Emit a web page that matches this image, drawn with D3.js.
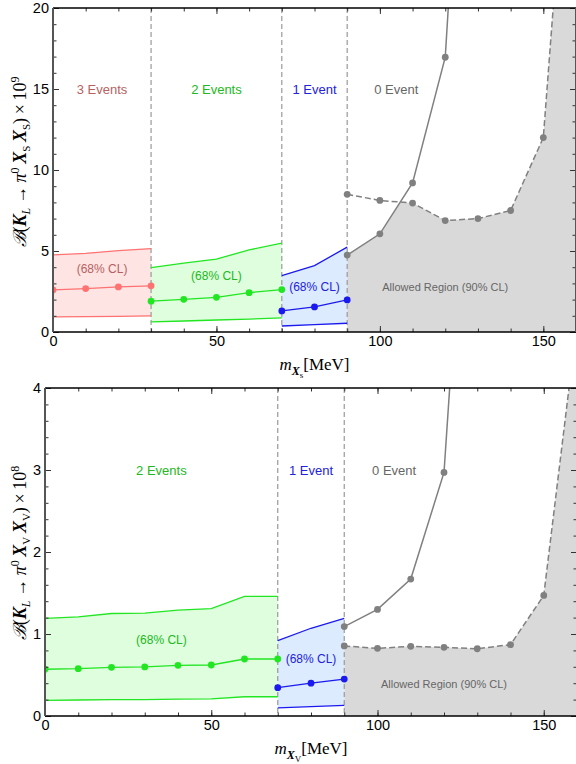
<html>
<head>
<meta charset="utf-8">
<script src="https://d3js.org/d3.v7.min.js"></script>
<style>
  body { margin: 0; background: #fff; }
  svg text { font-family: "Liberation Sans", Arial, sans-serif; }
</style>
</head>
<body>
<svg id="fig" width="576" height="764"></svg>
<script>
// ---- top panel: K_L -> pi0 Xs Xs  (x10^9) ----
var massS3 = [0, 10, 20, 30];
var s3Low  = [0.93, 0.95, 0.97, 0.99];
var s3Mid  = [2.6, 2.68, 2.78, 2.85];
var s3Up   = [4.76, 4.85, 5.02, 5.15];

var massS2 = [30, 40, 50, 60, 70];
var s2Low  = [0.63, 0.68, 0.74, 0.8, 0.87];
var s2Mid  = [1.9, 2.02, 2.14, 2.43, 2.62];
var s2Up   = [3.98, 4.25, 4.5, 5.07, 5.48];

var massS1 = [70, 80, 90];
var s1Low  = [0.37, 0.45, 0.54];
var s1Mid  = [1.3, 1.55, 1.98];
var s1Up   = [3.48, 4.1, 5.24];

var massS0  = [90, 100, 110, 120, 130];
var s0Solid = [4.75, 6.06, 9.2, 16.96, 50];
var massSAllow = [90, 100, 110, 120, 130, 140, 150, 160];
var sAllow     = [8.5, 8.12, 7.96, 6.88, 7.0, 7.5, 12.0, 38.5];
var cutsS = [30, 70, 90];

// ---- bottom panel: K_L -> pi0 Xv Xv  (x10^8) ----
var massV2 = [0, 10, 20, 30, 40, 50, 60, 70];
var v2Low  = [0.19, 0.195, 0.2, 0.2, 0.205, 0.21, 0.235, 0.235];
var v2Mid  = [0.57, 0.577, 0.594, 0.598, 0.618, 0.622, 0.695, 0.695];
var v2Up   = [1.19, 1.21, 1.25, 1.255, 1.29, 1.31, 1.46, 1.46];

var massV1 = [70, 80, 90];
var v1Low  = [0.1, 0.115, 0.13];
var v1Mid  = [0.345, 0.4, 0.45];
var v1Up   = [0.92, 1.07, 1.19];

var massV0  = [90, 100, 110, 120, 130];
var v0Solid = [1.09, 1.3, 1.67, 2.97, 9.0];
var massVAllow = [90, 100, 110, 120, 130, 140, 150, 160];
var vAllow     = [0.854, 0.825, 0.85, 0.838, 0.82, 0.87, 1.47, 4.8];
var cutsV = [70, 90];

var xTicks = [0, 50, 100, 150];

var RED = {line: "#ff7272", fill: "#ffe4e4", text: "#b85f5f"};
var GRN = {line: "#22e622", fill: "#defede", text: "#22b822"};
var BLU = {line: "#1a1aee", fill: "#ddebff", text: "#2222dd"};
var GRY = {line: "#808080", fill: "#d9d9d9", text: "#666"};

var svg = d3.select("#fig");

function panel(o, id) {
  var x = d3.scaleLinear().domain([0, 160]).range([o.l, o.r]);
  var y = d3.scaleLinear().domain([0, o.ymax]).range([o.b, o.t]);
  var g = svg.append("g");

  svg.append("clipPath").attr("id", id)
    .append("rect").attr("x", o.l).attr("y", o.t).attr("width", o.r - o.l).attr("height", o.b - o.t);
  var p = g.append("g").attr("clip-path", "url(#" + id + ")");

  // allowed region: below both gray curves
  var fs = d3.scaleLinear().domain(o.zero.m).range(o.zero.v);
  var fd = d3.scaleLinear().domain(o.allow.m).range(o.allow.v);
  var xs = d3.range(90, 160.001, 0.1);
  p.append("path")
    .datum(xs)
    .attr("d", d3.area().x(d => x(d)).y0(y(0)).y1(d => y(Math.min(fs(d), fd(d)))))
    .attr("fill", GRY.fill);

  // bands
  o.bands.forEach(function(b) {
    var pts = b.m.map((m, i) => ({m: m, lo: b.lo[i], mid: b.mid[i], hi: b.hi[i]}));
    p.append("path").datum(pts)
      .attr("d", d3.area().x(d => x(d.m)).y0(d => y(d.lo)).y1(d => y(d.hi)))
      .attr("fill", b.c.fill);
  });

  // cut lines
  p.selectAll(".cut").data(o.cuts).enter().append("line")
    .attr("x1", d => x(d)).attr("x2", d => x(d))
    .attr("y1", o.t).attr("y2", o.b)
    .attr("stroke", "#999").attr("stroke-width", 1.2).attr("stroke-dasharray", "5,3");

  var line = d3.line().x(d => x(d[0])).y(d => y(d[1]));
  o.bands.forEach(function(b) {
    ["lo", "hi", "mid"].forEach(function(k) {
      p.append("path").datum(d3.zip(b.m, b[k]))
        .attr("d", line).attr("fill", "none")
        .attr("stroke", b.c.line).attr("stroke-width", 1.3);
    });
    p.selectAll(null).data(d3.zip(b.m, b.mid)).enter().append("circle")
      .attr("cx", d => x(d[0])).attr("cy", d => y(d[1])).attr("r", 3.4)
      .attr("fill", b.c.line);
  });

  p.append("path").datum(d3.zip(o.zero.m, o.zero.v))
    .attr("d", line).attr("fill", "none").attr("stroke", GRY.line).attr("stroke-width", 1.5);
  p.append("path").datum(d3.zip(o.allow.m, o.allow.v))
    .attr("d", line).attr("fill", "none").attr("stroke", GRY.line).attr("stroke-width", 1.5)
    .attr("stroke-dasharray", "6,3");
  p.selectAll(null).data(d3.zip(o.zero.m, o.zero.v).concat(d3.zip(o.allow.m, o.allow.v)))
    .enter().append("circle")
    .attr("cx", d => x(d[0])).attr("cy", d => y(d[1])).attr("r", 3.4).attr("fill", GRY.line);

  // text labels
  g.selectAll(null).data(o.labels).enter().append("text")
    .attr("x", d => x(d.m)).attr("y", d => y(d.v))
    .attr("text-anchor", "middle").attr("dominant-baseline", "central")
    .style("font-size", d => d.size + "px").attr("fill", d => d.c)
    .text(d => d.t);

  // axes
  var fmt = d3.format("d");
  g.append("g").attr("transform", "translate(0," + o.b + ")")
    .call(d3.axisBottom(x).tickValues(xTicks).tickSize(-6).tickPadding(4).tickFormat(fmt));
  g.append("g").attr("transform", "translate(0," + o.b + ")")
    .call(d3.axisBottom(x).tickValues(d3.range(0, 161, 10)).tickSize(-3.5).tickFormat(""));
  g.append("g").attr("transform", "translate(0," + o.t + ")")
    .call(d3.axisTop(x).tickValues(xTicks).tickSize(-6).tickFormat(""));
  g.append("g").attr("transform", "translate(0," + o.t + ")")
    .call(d3.axisTop(x).tickValues(d3.range(0, 161, 10)).tickSize(-3.5).tickFormat(""));
  g.append("g").attr("transform", "translate(" + o.l + ",0)")
    .call(d3.axisLeft(y).tickValues(o.yMajor).tickSize(-6).tickPadding(4).tickFormat(fmt));
  g.append("g").attr("transform", "translate(" + o.l + ",0)")
    .call(d3.axisLeft(y).tickValues(o.yMinor).tickSize(-3.5).tickFormat(""));
  g.append("g").attr("transform", "translate(" + o.r + ",0)")
    .call(d3.axisRight(y).tickValues(o.yMajor).tickSize(-6).tickFormat(""));
  g.append("g").attr("transform", "translate(" + o.r + ",0)")
    .call(d3.axisRight(y).tickValues(o.yMinor).tickSize(-3.5).tickFormat(""));
  g.selectAll(".domain").remove();
  g.selectAll(".tick line").attr("stroke", "#333");
  g.selectAll(".tick text").style("font-size", "14.5px").attr("fill", "#000")
    .style("font-family", "'Liberation Sans', Arial, sans-serif");

  // frame
  g.append("line").attr("x1", o.l).attr("x2", o.r).attr("y1", o.b).attr("y2", o.b)
    .attr("stroke", "#000").attr("stroke-width", 1.6);
  g.append("line").attr("x1", o.l).attr("x2", o.r).attr("y1", o.t).attr("y2", o.t)
    .attr("stroke", "#000").attr("stroke-width", 1.6);
  g.append("line").attr("x1", o.l).attr("x2", o.l).attr("y1", o.t).attr("y2", o.b)
    .attr("stroke", "#555").attr("stroke-width", 2);
  g.append("line").attr("x1", o.r).attr("x2", o.r).attr("y1", o.t).attr("y2", o.b)
    .attr("stroke", "#555").attr("stroke-width", 2);

  // axis titles
  var serif = "'Liberation Serif', 'DejaVu Serif', serif";
  var xt = g.append("text").attr("x", (o.l + o.r) / 2).attr("y", o.b + 38)
    .attr("text-anchor", "middle").style("font-family", serif).style("font-size", "17px");
  rich(xt, [["m", "i"], ["X", "bi", 5, 12], [o.sub, "", 3, 9], ["[MeV]", "", -8, 17]]);

  var yt = g.append("text")
    .attr("transform", "translate(" + 26 + "," + o.yc + ") rotate(-90)")
    .attr("text-anchor", "middle").style("font-family", serif).style("font-size", "18px");
  rich(yt, [["\u212C", "i"], ["(", ""], ["K", "bi"], ["L", "i", 4, 12], ["\u2009\u2192\u2009", "", -4, 18],
    ["\u03C0", "i"], ["0", "", -7, 12], ["\u2009X", "bi", 7, 18], [o.sub.toUpperCase(), "", 4, 11],
    ["\u2009X", "bi", -4, 18], [o.sub.toUpperCase(), "", 4, 11], [")\u2009\u00D7\u200910", "", -4, 18],
    [o.pow, "", -7, 12]]);
}

function rich(t, parts) {
  parts.forEach(function(q) {
    var s = t.append("tspan").text(q[0]);
    if (q[1].indexOf("i") >= 0) s.style("font-style", "italic");
    if (q[1].indexOf("b") >= 0) s.style("font-weight", "bold");
    if (q[2]) s.attr("dy", q[2]);
    if (q[3]) s.style("font-size", q[3] + "px");
  });
}

panel({
  l: 53, r: 576, t: 8, b: 332, ymax: 20, yc: 162,
  yMajor: [0, 5, 10, 15, 20], yMinor: d3.range(0, 20.01, 1),
  bands: [
    {m: massS3, lo: s3Low, mid: s3Mid, hi: s3Up, c: RED},
    {m: massS2, lo: s2Low, mid: s2Mid, hi: s2Up, c: GRN},
    {m: massS1, lo: s1Low, mid: s1Mid, hi: s1Up, c: BLU}
  ],
  zero: {m: massS0, v: s0Solid},
  allow: {m: massSAllow, v: sAllow},
  cuts: cutsS, sub: "s", pow: "9",
  labels: [
    {t: "3 Events", m: 15, v: 15, c: RED.text, size: 13},
    {t: "2 Events", m: 50, v: 15, c: GRN.text, size: 13},
    {t: "1 Event", m: 80, v: 15, c: BLU.text, size: 13},
    {t: "0 Event", m: 105, v: 15, c: GRY.text, size: 13},
    {t: "(68% CL)", m: 15, v: 3.9, c: RED.text, size: 12},
    {t: "(68% CL)", m: 50, v: 3.45, c: GRN.text, size: 12},
    {t: "(68% CL)", m: 80, v: 2.75, c: BLU.text, size: 12},
    {t: "Allowed Region (90% CL)", m: 120, v: 2.78, c: GRY.text, size: 11}
  ]
}, "clipTop");

panel({
  l: 45, r: 577, t: 388, b: 716, ymax: 4, yc: 553,
  yMajor: [0, 1, 2, 3, 4], yMinor: d3.range(0, 4.01, 0.2),
  bands: [
    {m: massV2, lo: v2Low, mid: v2Mid, hi: v2Up, c: GRN},
    {m: massV1, lo: v1Low, mid: v1Mid, hi: v1Up, c: BLU}
  ],
  zero: {m: massV0, v: v0Solid},
  allow: {m: massVAllow, v: vAllow},
  cuts: cutsV, sub: "V", pow: "8",
  labels: [
    {t: "2 Events", m: 35, v: 3.0, c: GRN.text, size: 13},
    {t: "1 Event", m: 80, v: 3.0, c: BLU.text, size: 13},
    {t: "0 Event", m: 105, v: 3.0, c: GRY.text, size: 13},
    {t: "(68% CL)", m: 35, v: 0.93, c: GRN.text, size: 12},
    {t: "(68% CL)", m: 80, v: 0.69, c: BLU.text, size: 12},
    {t: "Allowed Region (90% CL)", m: 120, v: 0.39, c: GRY.text, size: 11}
  ]
}, "clipBot");
</script>
</body>
</html>
